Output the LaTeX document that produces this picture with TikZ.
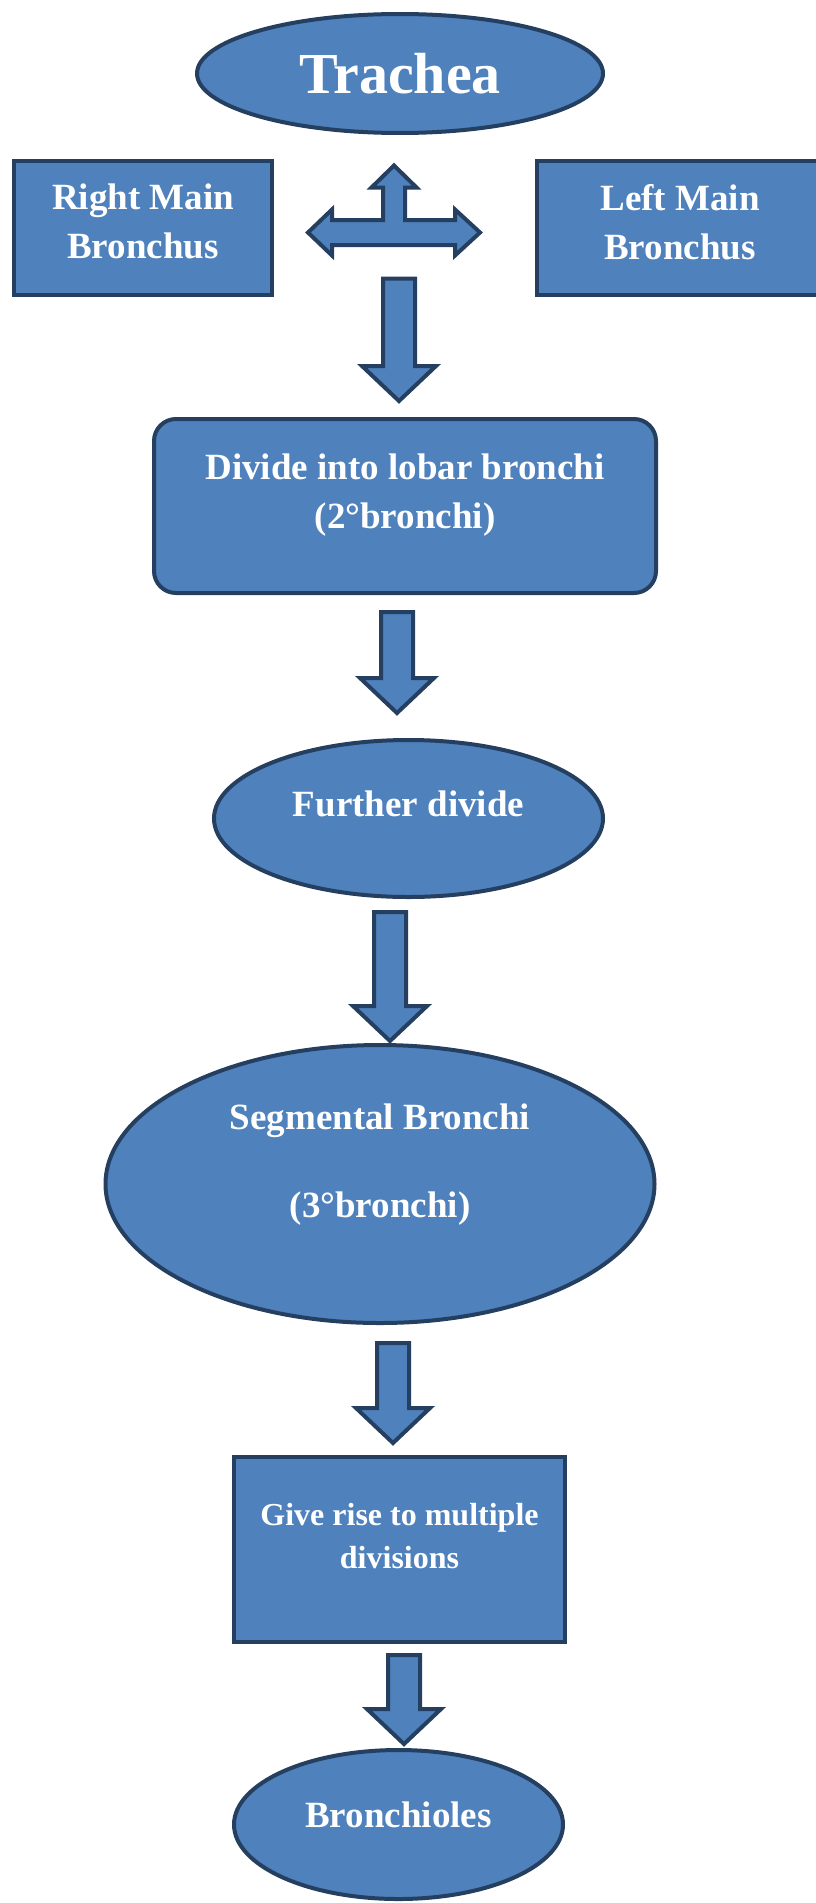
\documentclass[tikz,border=0pt]{standalone}
\usepackage{fontspec}
\setmainfont{Liberation Serif}
\usetikzlibrary{shapes.geometric, calc}
\definecolor{boxblue}{HTML}{4F81BD}
\definecolor{edgeblue}{HTML}{243F60}
\tikzstyle{oval} = [ellipse, draw=edgeblue, line width=4pt, fill=boxblue, text=white, align=center, font=\bfseries\fontsize{37}{49}\selectfont]
\tikzstyle{box} = [rectangle, draw=edgeblue, line width=4pt, fill=boxblue, text=white, align=center, font=\bfseries\fontsize{37}{49}\selectfont]
\tikzstyle{roundbox} = [box, rounded corners=22pt]
\tikzstyle{crossarrow} = [draw=edgeblue, fill=boxblue, line width=4pt]
\tikzstyle{blockarrow} = [crossarrow, to path={let \p1=(\tikztostart), \p2=(\tikztotarget) in (\x1-16pt,\y1) -- (\x1+16pt,\y1) -- (\x1+16pt,\y2+35pt) -- (\x1+37pt,\y2+35pt) -- (\x1,\y2) -- (\x1-37pt,\y2+35pt) -- (\x1-16pt,\y2+35pt) -- cycle}]

\begin{document}
\begin{tikzpicture}[x=1pt, y=-1pt, node distance=330pt]

\useasboundingbox (0,0) rectangle (816,1903);

\node (trachea) [oval, minimum width=406pt, minimum height=119pt, font=\bfseries\fontsize{58}{70}\selectfont] at (400,73.5) {Trachea};
\node (rightmain) [box, minimum width=258pt, minimum height=134pt, text depth=13pt, below of=trachea, xshift=-257pt, yshift=175.5pt] {Right Main\\Bronchus};
\node (leftmain) [box, minimum width=286pt, minimum height=134pt, text depth=13pt, below of=trachea, xshift=280pt, yshift=175.5pt] {Left Main\\Bronchus};
\coordinate (split) at (394,232.5);
\node (divide) [roundbox, minimum width=502pt, minimum height=174pt, text depth=29.5pt, below of=trachea, xshift=5pt, yshift=-102.5pt] {Divide into lobar bronchi\\(2°bronchi)};
\node (further) [oval, minimum width=389pt, minimum height=157pt, text depth=29.5pt, below of=divide, xshift=3.5pt, yshift=17.5pt] {Further divide};
\node (segmental) [oval, minimum width=549pt, minimum height=278pt, text depth=46.5pt, font=\bfseries\fontsize{37}{88}\selectfont, below of=further, xshift=-28.5pt, yshift=-35.5pt] {Segmental Bronchi\\(3°bronchi)};
\node (giverise) [box, minimum width=331pt, minimum height=185pt, text depth=26.5pt, font=\bfseries\fontsize{32}{43}\selectfont, below of=segmental, xshift=19.5pt, yshift=-35.5pt] {Give rise to multiple\\divisions};
\node (bronchioles) [oval, minimum width=329pt, minimum height=149pt, text depth=19.5pt, below of=giverise, xshift=-1pt, yshift=55pt] {Bronchioles};

\draw [crossarrow, shift={(split)}] (-86,0) -- (-62,-23) -- (-62,-12.5) -- (-11,-12.5) -- (-11,-45) -- (-22.5,-45) -- (0,-67) -- (22.5,-45) -- (11,-45) -- (11,-12.5) -- (61,-12.5) -- (61,-23) -- (86,0) -- (61,23) -- (61,12.5) -- (-62,12.5) -- (-62,23) -- cycle;
\draw [blockarrow] ([xshift=5pt,yshift=-46pt]split) to ([yshift=16pt]divide.north);
\draw [blockarrow] ([xshift=-8pt,yshift=-17pt]divide.south) to ([yshift=25pt]further.north);
\draw [blockarrow] ([xshift=-18.5pt,yshift=-13pt]further.south) to ([yshift=2pt]segmental.north);
\draw [blockarrow] ([xshift=13pt,yshift=-18pt]segmental.south) to ([yshift=12pt]giverise.north);
\draw [blockarrow] ([xshift=4.5pt,yshift=-11pt]giverise.south) to ([yshift=4pt]bronchioles.north);

\end{tikzpicture}
\end{document}
